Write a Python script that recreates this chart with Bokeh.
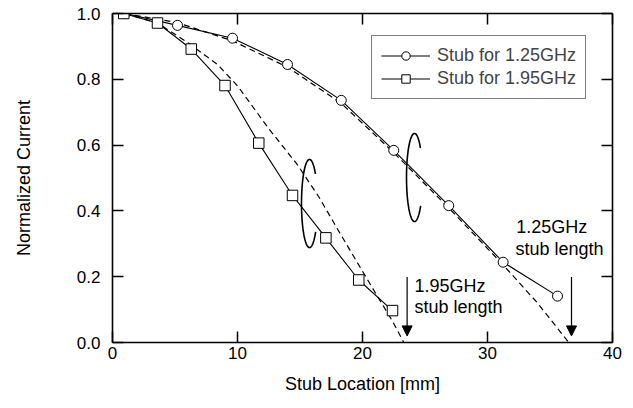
import numpy as np
from bokeh.plotting import figure
from bokeh.models import (Range1d, LinearAxis, FixedTicker, Legend, LegendItem,
                          Arrow, NormalHead, PrintfTickFormatter)
from bokeh.core.properties import value
from bokeh.embed import file_html
from bokeh.resources import INLINE

# ---- data ----
x_125 = [1.0, 5.2, 9.6, 14.0, 18.3, 22.5, 26.9, 31.25, 35.6]
y_125 = [1.0, 0.964, 0.925, 0.845, 0.736, 0.584, 0.416, 0.244, 0.141]

x_195 = [0.9, 3.6, 6.3, 9.0, 11.7, 14.4, 17.07, 19.7, 22.4]
y_195 = [1.0, 0.971, 0.892, 0.781, 0.606, 0.447, 0.318, 0.19, 0.097]

dash_125_x = [1, 5.2, 9.6, 14.0, 18.3, 22.5, 26.9, 31.25, 34.0, 36.5]
dash_125_y = [1.0, 0.972, 0.917, 0.837, 0.727, 0.577, 0.409, 0.236, 0.12, 0.0]

dash_195_x = [1, 3.6, 6, 8.4, 10, 12.5, 14.8, 16.5, 18, 19.6, 21.2, 22.4, 23.3]
dash_195_y = [1.0, 0.971, 0.912, 0.845, 0.78, 0.65, 0.54, 0.443, 0.345, 0.242, 0.14, 0.065, 0.0]

x_ticks = [0, 10, 20, 30, 40]
y_ticks = [0.0, 0.2, 0.4, 0.6, 0.8, 1.0]

legend_labels = ["Stub for 1.25GHz", "Stub for 1.95GHz"]
arrow_x = [23.57, 36.72]
arrow_labels = [("1.95GHz", "stub length"), ("1.25GHz", "stub length")]

FONT = "Liberation Sans"
FS_TICK = "17px"
FS = "18px"

p = figure(width=633, height=408, output_backend="svg", toolbar_location=None,
           x_range=Range1d(0, 40), y_range=Range1d(0, 1.0),
           min_border_left=112, min_border_right=21, min_border_top=13,
           min_border_bottom=66)
p.grid.visible = False
p.outline_line_color = None
p.background_fill_color = "white"

bottom = p.below[0]
left = p.left[0]
bottom.axis_label = "Stub Location [mm]"
left.axis_label = "Normalized Current"
bottom.ticker = FixedTicker(ticks=x_ticks)
left.ticker = FixedTicker(ticks=y_ticks)
left.formatter = PrintfTickFormatter(format="%.1f")

top = LinearAxis(ticker=FixedTicker(ticks=x_ticks),
                 major_label_overrides={t: "" for t in x_ticks})
right = LinearAxis(ticker=FixedTicker(ticks=y_ticks),
                   major_label_overrides={t: "" for t in y_ticks})
p.add_layout(top, "above")
p.add_layout(right, "right")

for ax in [bottom, left, top, right]:
    ax.axis_line_color = "black"
    ax.axis_line_width = 1.6
    ax.major_tick_line_color = "black"
    ax.major_tick_line_width = 1.5
    ax.major_tick_in = 11
    ax.major_tick_out = 0
    ax.minor_tick_line_color = None
    ax.major_label_text_font = FONT
    ax.major_label_text_font_size = FS_TICK
    ax.major_label_text_color = "black"
    ax.axis_label_text_font = FONT
    ax.axis_label_text_font_size = FS
    ax.axis_label_text_font_style = "normal"
    ax.axis_label_text_color = "black"
bottom.major_label_standoff = 4
left.major_label_standoff = 12
bottom.axis_label_standoff = 12
left.axis_label_standoff = 40
top.major_label_standoff = 0
right.major_label_standoff = 0

# dashed theoretical curves
p.line(dash_125_x, dash_125_y, line_color="black", line_width=1.2, line_dash="6 4")
p.line(dash_195_x, dash_195_y, line_color="black", line_width=1.2, line_dash="6 4")

# measured lines
l1 = p.line(x_125, y_125, line_color="black", line_width=1.1)
l2 = p.line(x_195, y_195, line_color="black", line_width=1.1)
s1 = p.scatter(x_125, y_125, marker="circle", size=10, fill_color="white",
               line_color="black", line_width=1)
s2 = p.scatter(x_195, y_195, marker="square", size=10.5, fill_color="white",
               line_color="black", line_width=1)

# open loops marking the pairs of curves
def loop(cx, cy, rx, ry, a0, a1):
    t = np.radians(np.linspace(a0, a1, 80))
    return cx + rx * np.cos(t), cy + ry * np.sin(t)

for cx, cy in [(15.76, 0.4225), (24.16, 0.5015)]:
    lx, ly = loop(cx, cy, 0.64, 0.134, 42, 320)
    p.line(lx, ly, line_color="black", line_width=1.6)

# arrows
for ax_x in arrow_x:
    p.add_layout(Arrow(end=NormalHead(size=10, fill_color="black", line_color="black"),
                       x_start=ax_x, y_start=0.199, x_end=ax_x, y_end=0.02,
                       line_color="black", line_width=1.2))

# arrow labels
p.text(x=[24.16, 24.16], y=[0.173, 0.109], text=list(arrow_labels[0]),
       text_font=value(FONT), text_font_size=FS, text_baseline="middle",
       text_align="left", text_color="black")
p.text(x=[32.3, 32.24], y=[0.350, 0.285], text=list(arrow_labels[1]),
       text_font=value(FONT), text_font_size=FS, text_baseline="middle",
       text_align="left", text_color="black")

legend = Legend(items=[LegendItem(label=legend_labels[0], renderers=[l1, s1]),
                       LegendItem(label=legend_labels[1], renderers=[l2, s2])],
                location=(259, 243), margin=0, padding=9, spacing=2,
                glyph_width=49, glyph_height=21, label_height=20,
                label_standoff=7, label_text_font=FONT, label_text_font_size=FS,
                border_line_color="black", border_line_width=1,
                background_fill_color="white", background_fill_alpha=1)
p.add_layout(legend)

open("out.html", "w").write(file_html(p, INLINE))
